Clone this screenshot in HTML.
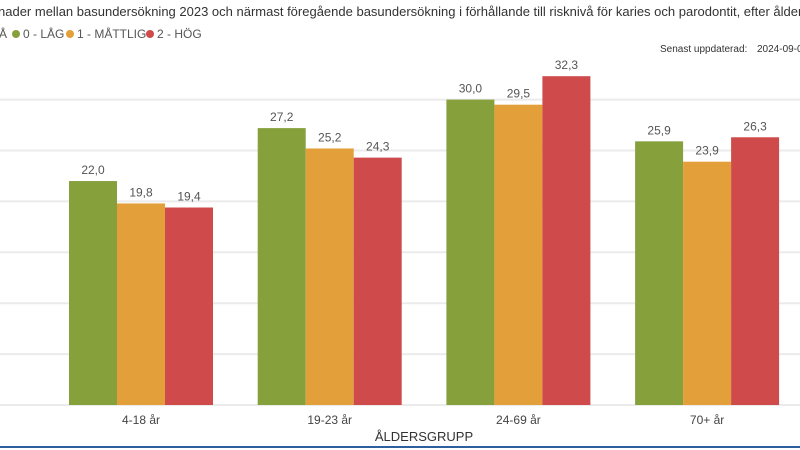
<!DOCTYPE html>
<html><head><meta charset="utf-8"><style>
body{margin:0;width:800px;height:450px;overflow:hidden;background:#fff;font-family:"Liberation Sans",sans-serif}
svg{display:block}
</style></head><body>
<svg id="c" width="800" height="450">
<text x="-2" y="16" font-size="13" fill="#333">nader mellan basundersökning 2023 och närmast föregående basundersökning i förhållande till risknivå för karies och parodontit, efter åldersgrupp</text>
<g font-size="12" fill="#555">
<text x="-1" y="38">Å</text>
<circle cx="16" cy="34" r="4" fill="#86a03c"/><text x="23" y="38">0 - LÅG</text>
<circle cx="70" cy="34" r="4" fill="#e39f3a"/><text x="77" y="38">1 - MÅTTLIG</text>
<circle cx="150" cy="34" r="4" fill="#cf4a4a"/><text x="157" y="38">2 - HÖG</text>
</g>
<text x="660" y="52" font-size="10" fill="#333">Senast uppdaterad:</text>
<text x="757" y="52" font-size="10" fill="#333">2024-09-0</text>
<g id="grid"></g><g id="bars"></g>
<text x="424" y="441" font-size="13" fill="#333" text-anchor="middle">ÅLDERSGRUPP</text>
<rect x="0" y="446" width="800" height="2" fill="#2b5f9e"/>
</svg>
<script>
const categories=["4-18 år","19-23 år","24-69 år","70+ år"];
const lag=[22.0,27.2,30.0,25.9];
const mattlig=[19.8,25.2,29.5,23.9];
const hog=[19.4,24.3,32.3,26.3];
const gridTicks=[0,5,10,15,20,25,30];
const series=[{n:"lag",v:lag,c:"#86a03c"},{n:"mattlig",v:mattlig,c:"#e39f3a"},{n:"hog",v:hog,c:"#cf4a4a"}];
const NS="http://www.w3.org/2000/svg";
const base=405,scale=10.18;
const y=v=>base-v*scale;
const xc=i=>141+i*188.7;
const bw=48;
const g=document.getElementById("grid"),b=document.getElementById("bars");
function mk(t,a){const e=document.createElementNS(NS,t);for(const k in a)e.setAttribute(k,a[k]);return e;}
gridTicks.forEach(t=>{const l=mk("line",{x1:0,x2:800,y1:y(t),y2:y(t),stroke:"#ebebeb","stroke-width":2});

g.appendChild(l);});
categories.forEach((c,i)=>{
 series.forEach((s,j)=>{
  const x=xc(i)-72+j*bw,v=s.v[i];
  const r=mk("rect",{x:x,y:y(v),width:bw,height:v*scale,fill:s.c});
  
  b.appendChild(r);
  const t=mk("text",{x:x+bw/2,y:y(v)-7,"text-anchor":"middle","font-size":12,fill:"#555"});
  t.textContent=v.toFixed(1).replace(".",",");
  
  b.appendChild(t);
 });
 const t=mk("text",{x:xc(i),y:424,"text-anchor":"middle","font-size":12,fill:"#444"});
 t.textContent=c;
 
 b.appendChild(t);
});
</script>
</body></html>
